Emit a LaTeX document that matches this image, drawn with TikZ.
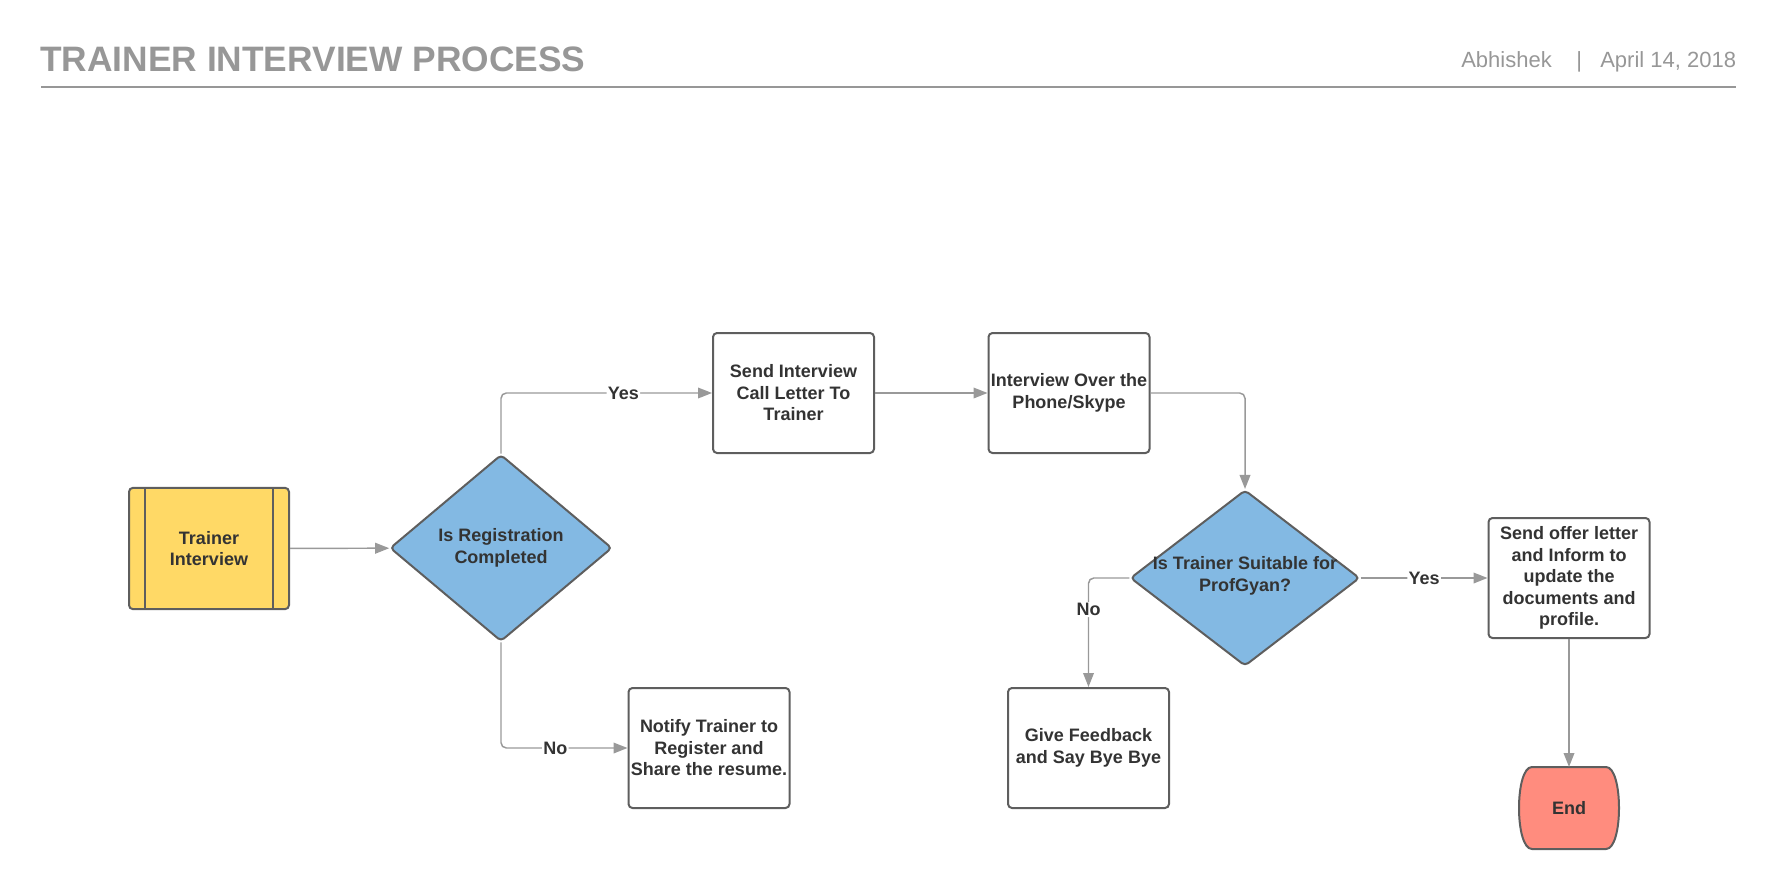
\documentclass[tikz,border=0pt]{standalone}
\usepackage{fontspec}
\setmainfont{Liberation Sans}
\usetikzlibrary{shapes.geometric,arrows.meta}
\definecolor{linegray}{HTML}{999999}
\definecolor{bordergray}{HTML}{5E5E5E}
\definecolor{textgray}{HTML}{333333}
\definecolor{headgray}{HTML}{979797}
\definecolor{procyellow}{HTML}{FFD966}
\definecolor{decblue}{HTML}{83B9E3}
\definecolor{endred}{HTML}{FF8C7E}

\begin{document}
\begin{tikzpicture}[x=0.75pt,y=-0.75pt,
  every node/.style={font=\fontsize{13.5}{16.1}\selectfont\bfseries,text=textgray},
  box/.style={draw=bordergray,line width=1.5pt,rounded corners=3pt,fill=white,
    minimum width=120.75pt,minimum height=90pt,inner sep=1pt,align=center},
  proc/.style={box,fill=procyellow,minimum width=120pt,minimum height=91pt,
    path picture={
      \draw[bordergray,line width=1.5pt]
        ([xshift=12pt]path picture bounding box.north west) -- ([xshift=12pt]path picture bounding box.south west)
        ([xshift=-12pt]path picture bounding box.north east) -- ([xshift=-12pt]path picture bounding box.south east);}},
  decision/.style={diamond,draw=bordergray,line width=1.5pt,fill=decblue,
    rounded corners=3pt,inner sep=0pt,align=center},
  terminal/.style={minimum width=73.5pt,minimum height=60pt,inner sep=0pt,outer sep=0.75pt},
  flow/.style={draw=linegray,line width=1.1pt,rounded corners=4pt,
    -{Triangle[length=10.5pt,width=8pt]}},
  lbl/.style={fill=white,inner sep=1pt},
  headtxt/.style={font=\fontsize{16.5}{20}\selectfont,text=headgray,inner sep=0pt,anchor=base west}]
\useasboundingbox (0,0) rectangle (1777,888);
%Заголовок
\node[font=\fontsize{26.5}{30}\selectfont\bfseries,text=headgray,inner sep=0pt,anchor=west] (title) at (40,59) {TRAINER INTERVIEW PROCESS};
\node[headtxt] (author) at (1461,68) {Abhishek};
\node[headtxt] (sep) at (1576,68) {|};
\node[headtxt] (date) at (1600,68) {April 14, 2018};
\draw[headgray,line width=1.5pt] (41,87) -- (1736,87);
%Блоки
\node[proc] (trainer) at (209,548.5) {Trainer\\Interview};
\node[decision,minimum width=166.5pt,minimum height=140pt] (regdone) at (501,548) {Is Registration\\Completed};
\node[box] (sendcall) at (793.5,393) {Send Interview\\Call Letter To\\Trainer};
\node[box] (phone) at (1069,393) {Interview Over the\\Phone/Skype};
\node[decision,minimum width=172pt,minimum height=132pt] (suitable) at (1245,578) {};
\node[align=center] (suitabletxt) at (1245,576) {Is Trainer Suitable for\\ProfGyan?};
\node[box] (offer) at (1569,578) {Send offer letter\\and Inform to\\update the\\documents and\\profile.};
\node[box] (notify) at (709,748) {Notify Trainer to\\Register and\\Share the resume.};
\node[box] (feedback) at (1088.5,748) {Give Feedback\\and Say Bye Bye};
%Конец
\node[terminal] (end) at (1569,808) {};
\draw[bordergray,fill=endred,line width=1.5pt,line join=round]
  ([xshift=9.75pt]end.north west) -- ([xshift=-9.75pt]end.north east)
  .. controls ([xshift=3.25pt]end.north east) and ([xshift=3.25pt]end.south east) .. ([xshift=-9.75pt]end.south east)
  -- ([xshift=9.75pt]end.south west)
  .. controls ([xshift=-3.25pt]end.south west) and ([xshift=-3.25pt]end.north west) .. cycle;
\node (endtxt) at (end) {End};
%Стрелки
\draw[flow] (trainer) -- (regdone);
\draw[flow] (regdone.north) |- node[lbl,pos=0.79] (yes1) {Yes} (sendcall);
\draw[flow] (regdone.south) |- node[lbl,pos=0.715] (no1) {No} (notify);
\draw[flow] (sendcall) -- (phone);
\draw[flow] (phone) -| (suitable);
\draw[flow] (suitable) -- node[lbl] (yes2) {Yes} (offer);
\draw[flow] (suitable.west) -| node[lbl,pos=0.645] (no2) {No} (feedback);
\draw[flow] (offer) -- (end);
\end{tikzpicture}
\end{document}
